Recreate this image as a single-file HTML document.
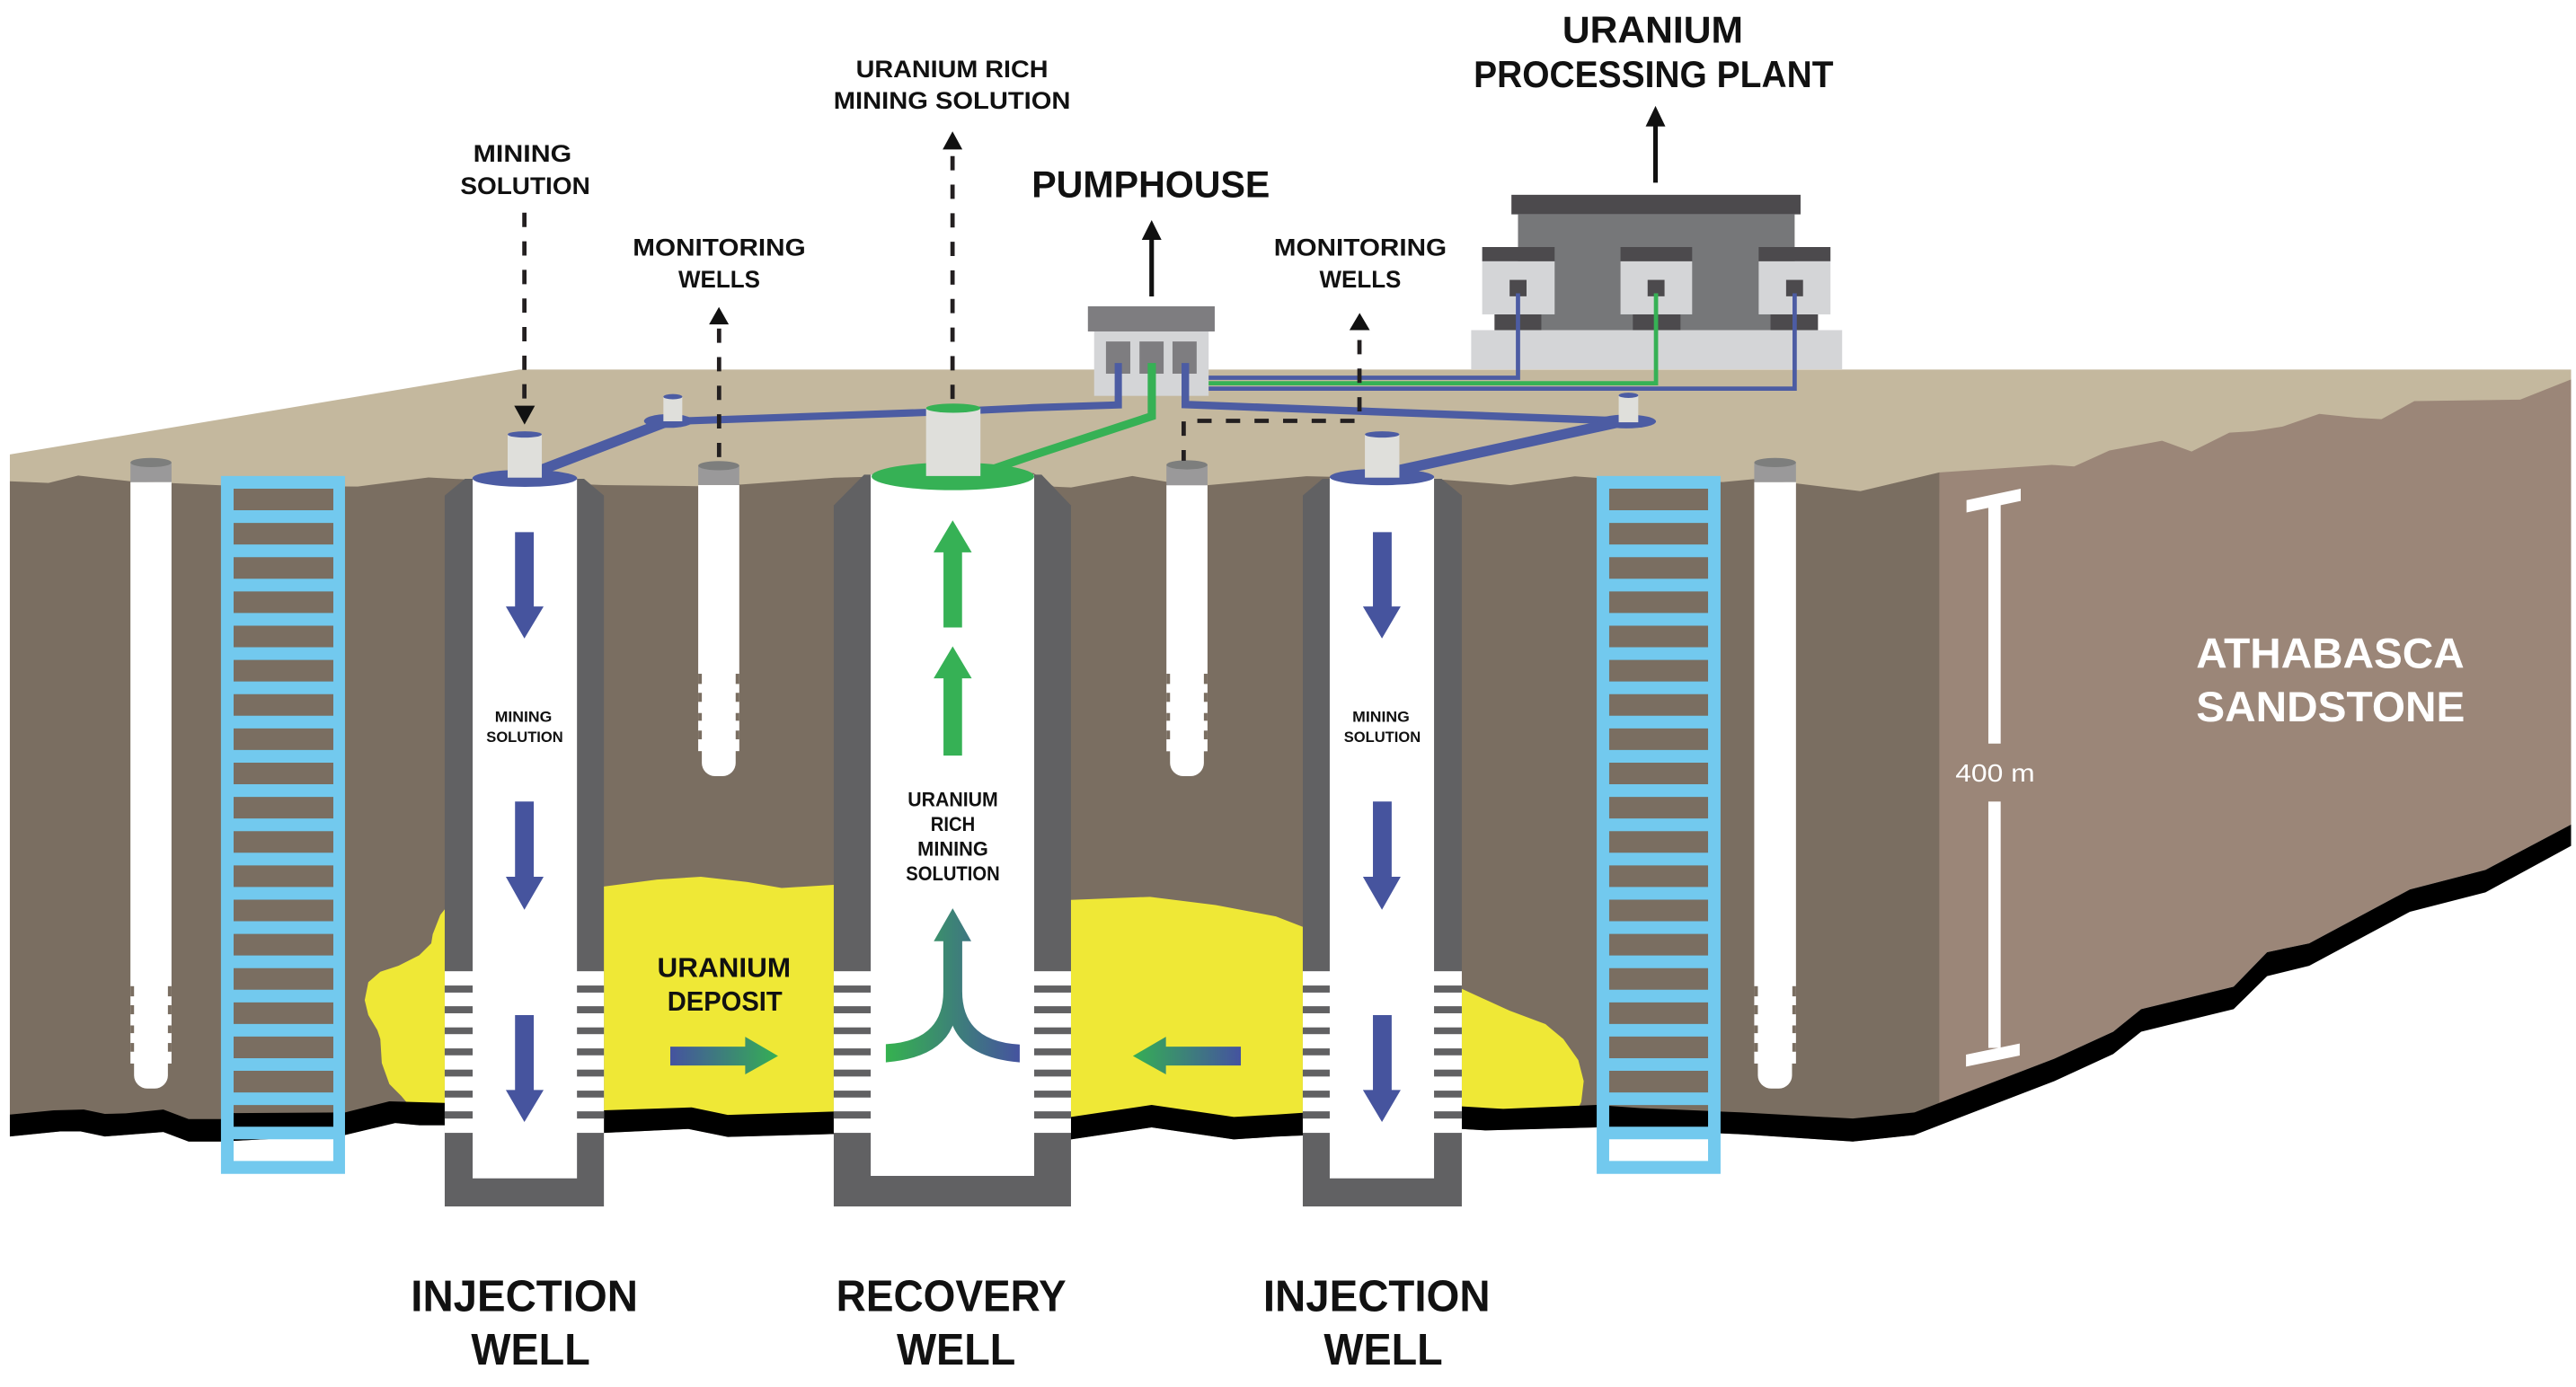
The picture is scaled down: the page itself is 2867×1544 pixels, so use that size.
<!DOCTYPE html>
<html><head><meta charset="utf-8"><style>
html,body{margin:0;padding:0;background:#fff;}
svg{display:block;}
text{font-family:"Liberation Sans",Arial,sans-serif;}
</style></head><body>
<svg xmlns="http://www.w3.org/2000/svg" width="2867" height="1544" viewBox="0 0 1568 844.43" preserveAspectRatio="none">
<defs>
<linearGradient id="gR" gradientUnits="userSpaceOnUse" x1="408" y1="0" x2="473.6" y2="0"><stop offset="0" stop-color="#45539F"/><stop offset="1" stop-color="#35AE55"/></linearGradient>
<linearGradient id="gL" gradientUnits="userSpaceOnUse" x1="689.6" y1="0" x2="755.3" y2="0"><stop offset="0" stop-color="#35AE55"/><stop offset="1" stop-color="#45539F"/></linearGradient>
<linearGradient id="gY" gradientUnits="userSpaceOnUse" x1="539.2" y1="0" x2="620.7" y2="0"><stop offset="0" stop-color="#35B24F"/><stop offset="1" stop-color="#45539F"/></linearGradient>
</defs>
<rect x="0" y="0" width="1568" height="844.43" fill="#fff"/>

<!-- tan top surface -->
<polygon fill="#C4B89E" points="6,276.7 316,225 1565,225 1565,240 1180,300 6,300"/>

<!-- front face -->
<polygon fill="#7A6E61" points="6,293 29.5,294 47.6,289.5 79.4,293 134.5,295.5 217.7,296.2 260.8,290.7 285.7,292 367.3,295.3 425,296 451.2,295 508,290.8 540,290 629,288 641.5,296.3 652,296.8 689.3,289.8 711,293.5 735,295.4 795.3,289.9 874,291.7 919.5,295.3 958.6,290 973,291 1048.7,293.5 1067.5,291.7 1094,294.4 1132.4,299 1180.5,287.6 1180.5,672 1165.3,691 1127.8,695 1060.9,690.6 1047.3,690 971.9,686.4 904.2,688.2 889.8,687.3 776.6,692 751,693.7 701,686.4 651.9,693.7 507.3,690.4 443,692.2 419,687.3 367.5,689.7 270.7,685.1 255.2,685.1 240.6,683.7 210,691 134.5,695 114.8,695 99.4,689.2 63.8,691.9 49.2,688.8 36.5,688.8 6,691.9"/>

<!-- right face -->
<polygon fill="#9B8678" points="1180.5,287.6 1249,283 1262.5,284 1284,274.3 1316,268.3 1334,274.9 1357,263.4 1371.6,262.5 1389.4,259.7 1411.7,252 1434,254.3 1449.6,255.2 1469.6,244.2 1534,243.3 1565,231 1565,502 1512.9,529.6 1466.9,541.5 1405.6,574.3 1380,579.7 1359.6,600.7 1303.3,614.4 1286.3,628.1 1250.5,644.5 1180.5,671.6"/>

<!-- uranium deposit -->
<polygon fill="#EFE836" points="251.6,676 244.3,667.3 237,660 232.4,647.2 231.5,632.6 229.7,627.2 224.2,618 222,608.9 224.2,598 231.5,591.6 242.5,588 255.2,581.6 262.5,574.3 263.4,568.8 268,557 272,552 300,545 367.5,539.7 400,535.5 426.6,533.8 455,537 475.8,540.6 507.3,538.7 580,545 651.9,547.9 700,546 740,551 776.6,557.9 793,564.3 840,585 889.8,602 918.8,615.3 940.7,623.5 951.6,632.6 960.7,645.4 964,658.2 962.5,670.9 958,680 889.8,680 793,682 651.9,686 507.3,683 367.5,683 270.7,678 251.6,678"/>

<!-- black bottom band -->
<polygon fill="#000" points="6,678.6 32.8,676 51,675.5 63.8,678.2 76.6,677.8 99.4,675.5 114.8,681.3 134.5,681.3 142,677.7 210,677.3 237,670.5 270.7,671.5 367.5,676 421,674.2 443,678.8 507.3,676.7 651.9,680 701,672.7 751,680 776.6,678.6 793,677.5 889.8,673.6 915,675.1 971.9,672.7 998,674.6 1047.3,676.7 1060.9,677.3 1127.8,681 1165.3,677.3 1250.5,644.5 1286.3,628.1 1303.3,614.4 1359.6,600.7 1380,579.7 1405.6,574.3 1466.9,541.5 1512.9,529.6 1565,502 1565,515 1512.9,543.3 1466.9,555.1 1405.6,588 1380,594.3 1359.6,614.4 1303.3,628.1 1286.3,641.7 1250.5,658.2 1165.3,691 1127.8,695 1060.9,690.6 1047.3,690 971.9,686.4 904.2,688.2 889.8,687.3 776.6,692 751,693.7 701,686.4 651.9,693.7 507.3,690.4 443,692.2 419,687.3 367.5,689.7 270.7,685.1 255.2,685.1 240.6,683.7 210,691 134.5,695 114.8,695 99.4,689.2 63.8,691.9 49.2,688.8 36.5,688.8 6,691.9"/>

<!-- ladders -->
<path fill="#72C9EE" fill-rule="evenodd" d="M134.5 289.8H210V714.7H134.5Z
M142.2 297.5H202.9V310.65H142.2Z M142.2 318.35H202.9V331.5H142.2Z M142.2 339.2H202.9V352.35H142.2Z M142.2 360.05H202.9V373.2H142.2Z M142.2 380.9H202.9V394.05H142.2Z M142.2 401.75H202.9V414.9H142.2Z M142.2 422.6H202.9V435.75H142.2Z M142.2 443.45H202.9V456.6H142.2Z M142.2 464.3H202.9V477.45H142.2Z M142.2 485.15H202.9V498.3H142.2Z M142.2 506H202.9V519.15H142.2Z M142.2 526.85H202.9V540H142.2Z M142.2 547.7H202.9V560.85H142.2Z M142.2 568.55H202.9V581.7H142.2Z M142.2 589.4H202.9V602.55H142.2Z M142.2 610.25H202.9V623.4H142.2Z M142.2 631.1H202.9V644.25H142.2Z M142.2 651.95H202.9V665.1H142.2Z M142.2 672.8H202.9V685.95H142.2Z M142.2 693.65H202.9V706.8H142.2Z"/>
<path fill="#72C9EE" fill-rule="evenodd" d="M971.9 289.8H1047.3V714.7H971.9Z
M979.5 297.5H1039.7V310.65H979.5Z M979.5 318.35H1039.7V331.5H979.5Z M979.5 339.2H1039.7V352.35H979.5Z M979.5 360.05H1039.7V373.2H979.5Z M979.5 380.9H1039.7V394.05H979.5Z M979.5 401.75H1039.7V414.9H979.5Z M979.5 422.6H1039.7V435.75H979.5Z M979.5 443.45H1039.7V456.6H979.5Z M979.5 464.3H1039.7V477.45H979.5Z M979.5 485.15H1039.7V498.3H979.5Z M979.5 506H1039.7V519.15H979.5Z M979.5 526.85H1039.7V540H979.5Z M979.5 547.7H1039.7V560.85H979.5Z M979.5 568.55H1039.7V581.7H979.5Z M979.5 589.4H1039.7V602.55H979.5Z M979.5 610.25H1039.7V623.4H979.5Z M979.5 631.1H1039.7V644.25H979.5Z M979.5 651.95H1039.7V665.1H979.5Z M979.5 672.8H1039.7V685.95H979.5Z M979.5 693.65H1039.7V706.8H979.5Z"/>

<!-- monitoring wells -->
<g>
 <!-- well 1 -->
 <rect x="79.4" y="293.5" width="25" height="354" fill="#fff"/>
 <rect x="81.6" y="630.4" width="20.6" height="32.3" rx="8" fill="#fff"/>
 <g fill="#7A6E61">
  <rect x="79.4" y="600.4" width="2.2" height="6.2"/><rect x="102.2" y="600.4" width="2.2" height="6.2"/>
  <rect x="79.4" y="612" width="2.2" height="5.5"/><rect x="102.2" y="612" width="2.2" height="5.5"/>
  <rect x="79.4" y="624.3" width="2.2" height="4.7"/><rect x="102.2" y="624.3" width="2.2" height="4.7"/>
  <rect x="79.4" y="635" width="2.2" height="5.3"/><rect x="102.2" y="635" width="2.2" height="5.3"/>
 </g>
 <rect x="79.4" y="281.6" width="25" height="11.9" fill="#9A999A"/>
 <ellipse cx="91.9" cy="281.6" rx="12.5" ry="2.8" fill="#7D7E7D"/>
 <!-- well 2 -->
 <rect x="425" y="295.3" width="25" height="162" fill="#fff"/>
 <rect x="427.2" y="440.2" width="20.6" height="32.3" rx="8" fill="#fff"/>
 <g fill="#7A6E61">
  <rect x="425" y="410.2" width="2.2" height="6.2"/><rect x="447.8" y="410.2" width="2.2" height="6.2"/>
  <rect x="425" y="421.8" width="2.2" height="5.5"/><rect x="447.8" y="421.8" width="2.2" height="5.5"/>
  <rect x="425" y="434.1" width="2.2" height="4.7"/><rect x="447.8" y="434.1" width="2.2" height="4.7"/>
  <rect x="425" y="444.8" width="2.2" height="5.3"/><rect x="447.8" y="444.8" width="2.2" height="5.3"/>
 </g>
 <rect x="425" y="283.5" width="25" height="11.8" fill="#9A999A"/>
 <ellipse cx="437.5" cy="283.5" rx="12.5" ry="2.8" fill="#7D7E7D"/>
 <!-- well 3 -->
 <rect x="710" y="295.4" width="25" height="162" fill="#fff"/>
 <rect x="712.2" y="440.2" width="20.6" height="32.3" rx="8" fill="#fff"/>
 <g fill="#7A6E61">
  <rect x="710" y="410.2" width="2.2" height="6.2"/><rect x="732.8" y="410.2" width="2.2" height="6.2"/>
  <rect x="710" y="421.8" width="2.2" height="5.5"/><rect x="732.8" y="421.8" width="2.2" height="5.5"/>
  <rect x="710" y="434.1" width="2.2" height="4.7"/><rect x="732.8" y="434.1" width="2.2" height="4.7"/>
  <rect x="710" y="444.8" width="2.2" height="5.3"/><rect x="732.8" y="444.8" width="2.2" height="5.3"/>
 </g>
 <rect x="710" y="283" width="25" height="12.4" fill="#9A999A"/>
 <ellipse cx="722.5" cy="283" rx="12.5" ry="2.8" fill="#7D7E7D"/>
 <!-- well 4 -->
 <rect x="1067.8" y="293.5" width="25.4" height="354" fill="#fff"/>
 <rect x="1070" y="630.4" width="20.8" height="32.3" rx="8" fill="#fff"/>
 <g fill="#7A6E61">
  <rect x="1067.8" y="600.4" width="2.2" height="6.2"/><rect x="1091" y="600.4" width="2.2" height="6.2"/>
  <rect x="1067.8" y="612" width="2.2" height="5.5"/><rect x="1091" y="612" width="2.2" height="5.5"/>
  <rect x="1067.8" y="624.3" width="2.2" height="4.7"/><rect x="1091" y="624.3" width="2.2" height="4.7"/>
  <rect x="1067.8" y="635" width="2.2" height="5.3"/><rect x="1091" y="635" width="2.2" height="5.3"/>
 </g>
 <rect x="1067.8" y="281.6" width="25.4" height="11.9" fill="#9A999A"/>
 <ellipse cx="1080.5" cy="281.6" rx="12.7" ry="2.8" fill="#7D7E7D"/>
</g>

<!-- LEFT INJECTION WELL -->
<polygon fill="#616163" points="270.7,301.7 283,291.5 355.5,291.5 367.6,301.7 367.6,734.5 270.7,734.5"/>
<rect x="287.7" y="291" width="63.5" height="426.4" fill="#fff"/>
<rect x="270.7" y="591.3" width="96.9" height="98.4" fill="#fff"/>
<g fill="#616163">
 <rect x="270.7" y="600" width="17" height="4.3"/><rect x="351.2" y="600" width="16.4" height="4.3"/>
 <rect x="270.7" y="612.6" width="17" height="4.3"/><rect x="351.2" y="612.6" width="16.4" height="4.3"/>
 <rect x="270.7" y="625.5" width="17" height="4.1"/><rect x="351.2" y="625.5" width="16.4" height="4.1"/>
 <rect x="270.7" y="638.3" width="17" height="4.2"/><rect x="351.2" y="638.3" width="16.4" height="4.2"/>
 <rect x="270.7" y="651.2" width="17" height="4.2"/><rect x="351.2" y="651.2" width="16.4" height="4.2"/>
 <rect x="270.7" y="664" width="17" height="4.2"/><rect x="351.2" y="664" width="16.4" height="4.2"/>
 <rect x="270.7" y="676.6" width="17" height="4.4"/><rect x="351.2" y="676.6" width="16.4" height="4.4"/>
</g>

<!-- RECOVERY WELL -->
<polygon fill="#616163" points="507.5,307.7 526,289 634,289 651.9,307.7 651.9,734.5 507.5,734.5"/>
<rect x="530" y="289" width="99.5" height="426.9" fill="#fff"/>
<rect x="507.5" y="591.3" width="144.4" height="98.4" fill="#fff"/>
<g fill="#616163">
 <rect x="507.5" y="600" width="22.5" height="4.3"/><rect x="629.5" y="600" width="22.4" height="4.3"/>
 <rect x="507.5" y="612.6" width="22.5" height="4.3"/><rect x="629.5" y="612.6" width="22.4" height="4.3"/>
 <rect x="507.5" y="625.5" width="22.5" height="4.1"/><rect x="629.5" y="625.5" width="22.4" height="4.1"/>
 <rect x="507.5" y="638.3" width="22.5" height="4.2"/><rect x="629.5" y="638.3" width="22.4" height="4.2"/>
 <rect x="507.5" y="651.2" width="22.5" height="4.2"/><rect x="629.5" y="651.2" width="22.4" height="4.2"/>
 <rect x="507.5" y="664" width="22.5" height="4.2"/><rect x="629.5" y="664" width="22.4" height="4.2"/>
 <rect x="507.5" y="676.6" width="22.5" height="4.4"/><rect x="629.5" y="676.6" width="22.4" height="4.4"/>
</g>

<!-- RIGHT INJECTION WELL -->
<polygon fill="#616163" points="793,301.7 805,291.5 877.5,291.5 889.8,301.7 889.8,734.5 793,734.5"/>
<rect x="809.4" y="291" width="63.5" height="426.4" fill="#fff"/>
<rect x="793" y="591.3" width="96.8" height="98.4" fill="#fff"/>
<g fill="#616163">
 <rect x="793" y="600" width="16.4" height="4.3"/><rect x="872.9" y="600" width="16.9" height="4.3"/>
 <rect x="793" y="612.6" width="16.4" height="4.3"/><rect x="872.9" y="612.6" width="16.9" height="4.3"/>
 <rect x="793" y="625.5" width="16.4" height="4.1"/><rect x="872.9" y="625.5" width="16.9" height="4.1"/>
 <rect x="793" y="638.3" width="16.4" height="4.2"/><rect x="872.9" y="638.3" width="16.9" height="4.2"/>
 <rect x="793" y="651.2" width="16.4" height="4.2"/><rect x="872.9" y="651.2" width="16.9" height="4.2"/>
 <rect x="793" y="664" width="16.4" height="4.2"/><rect x="872.9" y="664" width="16.9" height="4.2"/>
 <rect x="793" y="676.6" width="16.4" height="4.4"/><rect x="872.9" y="676.6" width="16.9" height="4.4"/>
</g>

<!-- blue arrows in injection wells -->
<g fill="#46549E">
 <polygon points="313.5,324 324.9,324 324.9,369.2 330.9,369.2 319.2,388.7 307.9,369.2 313.5,369.2"/>
 <polygon points="313.5,488 324.9,488 324.9,533.8 330.9,533.8 319.2,553.9 307.9,533.8 313.5,533.8"/>
 <polygon points="313.5,618 324.9,618 324.9,663.6 330.9,663.6 319.2,683.1 307.9,663.6 313.5,663.6"/>
 <polygon points="835.7,324 847.1,324 847.1,369.2 852.6,369.2 841.2,388.7 829.6,369.2 835.7,369.2"/>
 <polygon points="835.7,488 847.1,488 847.1,533.8 852.6,533.8 841.2,553.9 829.6,533.8 835.7,533.8"/>
 <polygon points="835.7,618 847.1,618 847.1,663.6 852.6,663.6 841.2,683.1 829.6,663.6 835.7,663.6"/>
</g>
<!-- green arrows in recovery well -->
<g fill="#36B155">
 <polygon points="579.9,316.8 591.5,336.3 585.6,336.3 585.6,382 574.3,382 574.3,336.3 568.3,336.3"/>
 <polygon points="579.9,393.5 591.5,413 585.6,413 585.6,460 574.3,460 574.3,413 568.3,413"/>
</g>
<!-- Y arrow -->
<path fill="url(#gY)" d="M574.2 573 L574.2 603.5 Q574.2 634 539.2 635.7 L539.2 646.8 Q572 644 579.9 624.4 Q588 644 620.7 646.8 L620.7 635.9 Q585.7 634 585.7 603.5 L585.7 573 L591.2 573 L579.9 553 L568.4 573 Z"/>
<!-- deposit arrows -->
<polygon fill="url(#gR)" points="408,637.2 453.6,637.2 453.6,631.2 473.6,642.9 453.6,654.1 453.6,648.7 408,648.7"/>
<polygon fill="url(#gL)" points="755.3,637.2 709.7,637.2 709.7,631.2 689.6,642.9 709.7,654.1 709.7,648.7 755.3,648.7"/>

<!-- text in wells -->
<g font-weight="bold" text-anchor="middle" fill="#111">
 <text x="318.6" y="439.4" font-size="8.9" textLength="34.8" lengthAdjust="spacingAndGlyphs">MINING</text>
 <text x="319.4" y="451.8" font-size="8.9" textLength="46.7" lengthAdjust="spacingAndGlyphs">SOLUTION</text>
 <text x="840.6" y="439.4" font-size="8.9" textLength="34.8" lengthAdjust="spacingAndGlyphs">MINING</text>
 <text x="841.4" y="451.8" font-size="8.9" textLength="46.7" lengthAdjust="spacingAndGlyphs">SOLUTION</text>
 <text x="580" y="490.9" font-size="12" textLength="55" lengthAdjust="spacingAndGlyphs">URANIUM</text>
 <text x="580" y="505.9" font-size="12" textLength="27" lengthAdjust="spacingAndGlyphs">RICH</text>
 <text x="580" y="520.9" font-size="12" textLength="43" lengthAdjust="spacingAndGlyphs">MINING</text>
 <text x="580" y="535.9" font-size="12" textLength="57.1" lengthAdjust="spacingAndGlyphs">SOLUTION</text>
 <text x="440.7" y="594.9" font-size="16.6" textLength="81.2" lengthAdjust="spacingAndGlyphs">URANIUM</text>
 <text x="441.2" y="615.3" font-size="16.6" textLength="70" lengthAdjust="spacingAndGlyphs">DEPOSIT</text>
</g>

<!-- pumphouse -->
<rect x="662.2" y="186.5" width="77.2" height="15.3" fill="#7E7D80"/>
<rect x="666" y="201.8" width="69.7" height="39.2" fill="#D4D5D7"/>
<rect x="673.2" y="207.9" width="14.8" height="19.6" fill="#7E7D80"/>
<rect x="693.6" y="207.9" width="14.7" height="19.6" fill="#7E7D80"/>
<rect x="713.7" y="207.9" width="14.7" height="19.6" fill="#7E7D80"/>

<!-- processing plant -->
<rect x="920" y="118.6" width="176" height="11.9" fill="#4C4A4D"/>
<rect x="924" y="130.5" width="168.4" height="70.5" fill="#767779"/>
<g fill="#4C4A4D">
 <rect x="902.2" y="150.4" width="44.1" height="8.7"/>
 <rect x="986.4" y="150.4" width="43.6" height="8.7"/>
 <rect x="1070.5" y="150.4" width="43.7" height="8.7"/>
 <rect x="909.7" y="191.4" width="28.5" height="9.6"/>
 <rect x="993.9" y="191.4" width="29" height="9.6"/>
 <rect x="1077.7" y="191.4" width="28.9" height="9.6"/>
</g>
<g fill="#D4D5D7">
 <rect x="902.2" y="159.1" width="44.1" height="32.3"/>
 <rect x="986.4" y="159.1" width="43.6" height="32.3"/>
 <rect x="1070.5" y="159.1" width="43.7" height="32.3"/>
 <rect x="895.5" y="201" width="225.8" height="23.8"/>
</g>
<g fill="#4C4A4D">
 <rect x="918.9" y="170.4" width="10.3" height="10"/>
 <rect x="1002.9" y="170.4" width="10.3" height="10"/>
 <rect x="1087.2" y="170.4" width="10.3" height="10"/>
</g>

<!-- pipes -->
<g fill="none" stroke-linejoin="miter" stroke-linecap="butt">
 <polyline stroke="#4C5CA3" stroke-width="2.6" points="735.7,230 924,230 924,178.6"/>
 <polyline stroke="#36B155" stroke-width="2.6" points="735.7,233.3 1008,233.3 1008,178.6"/>
 <polyline stroke="#4C5CA3" stroke-width="2.6" points="735.7,236.6 1092.4,236.6 1092.4,178.6"/>
 <line stroke="#4C5CA3" stroke-width="6.3" x1="327" y1="287" x2="407" y2="256.3"/>
 <polyline stroke="#4C5CA3" stroke-width="4.4" points="410,256.5 580,250.5 628.9,248.2 680.7,246.5 680.7,221"/>
 <polyline stroke="#36B155" stroke-width="5" points="701.1,221 701.1,253.4 628.9,277.1 600,287"/>
 <polyline stroke="#4C5CA3" stroke-width="4.6" points="721.5,221 721.5,246.3 988,256.3"/>
 <line stroke="#4C5CA3" stroke-width="6.3" x1="988" y1="256.5" x2="848" y2="287"/>
</g>
<ellipse cx="407" cy="256.3" rx="15" ry="4.2" fill="#4C5CA3"/>
<ellipse cx="990" cy="256.6" rx="18" ry="4.2" fill="#4C5CA3"/>
<rect x="403.8" y="241.5" width="11.5" height="15" fill="#DFDFDB"/>
<ellipse cx="409.55" cy="241.5" rx="5.75" ry="1.6" fill="#4C5CA3"/>
<rect x="985.3" y="240.7" width="11.9" height="16.4" fill="#DFDFDB"/>
<ellipse cx="991.25" cy="240.7" rx="5.95" ry="1.6" fill="#4C5CA3"/>

<!-- well heads -->
<ellipse cx="319.45" cy="291.2" rx="31.9" ry="5.2" fill="#4C5CA3"/>
<rect x="309" y="264.5" width="20.8" height="26.3" fill="#DFDFDB"/>
<ellipse cx="319.4" cy="264.5" rx="10.4" ry="1.9" fill="#4C5CA3"/>
<ellipse cx="580" cy="290" rx="49.5" ry="8.4" fill="#36B155"/>
<rect x="563.7" y="248.5" width="33.1" height="41.3" fill="#DFDFDB"/>
<ellipse cx="580.25" cy="248.5" rx="16.55" ry="2.8" fill="#36B155"/>
<ellipse cx="841.2" cy="290.4" rx="31.8" ry="5" fill="#4C5CA3"/>
<rect x="830.8" y="264.5" width="21" height="26.3" fill="#DFDFDB"/>
<ellipse cx="841.3" cy="264.5" rx="10.5" ry="1.9" fill="#4C5CA3"/>

<!-- dashed connectors -->
<g fill="none" stroke="#231F20" stroke-width="2.6" stroke-dasharray="8.7 8.7">
 <line x1="319.2" y1="129.5" x2="319.2" y2="247"/>
 <line x1="437.7" y1="200" x2="437.7" y2="280.5"/>
 <line x1="579.8" y1="95" x2="579.8" y2="246"/>
 <polyline points="827.5,207 827.5,256.2 720.5,256.2 720.5,280.5"/>
</g>
<g fill="#111">
 <polygon points="313,247 325.6,247 319.3,258.5"/>
 <polygon points="437.6,186.9 431.6,197.5 443.6,197.5"/>
 <polygon points="579.8,80 573.8,91 585.8,91"/>
 <polygon points="827.6,190.5 821.4,201 833.8,201"/>
 <polygon points="701,134 695,146 707,146"/>
 <polygon points="1007.7,64.5 1001.7,77 1013.7,77"/>
</g>
<line x1="701" y1="145" x2="701" y2="180.5" stroke="#111" stroke-width="2.8"/>
<line x1="1007.7" y1="76" x2="1007.7" y2="111.2" stroke="#111" stroke-width="2.8"/>

<!-- 400 m scale -->
<g fill="#fff">
 <polygon points="1197,312 1197,304.5 1230,297.5 1230,305"/>
 <rect x="1210.3" y="302" width="7.5" height="150.7"/>
 <rect x="1210.3" y="488" width="7.5" height="150"/>
 <polygon points="1196.7,649.4 1196.7,642.1 1229.4,635.3 1229.4,642.6"/>
</g>
<text x="1214.4" y="475.8" font-size="15" fill="#fff" text-anchor="middle" textLength="48.4" lengthAdjust="spacingAndGlyphs">400 m</text>

<!-- labels -->
<g font-weight="bold" text-anchor="middle" fill="#111">
 <text x="318" y="98.5" font-size="14.8" textLength="59.9" lengthAdjust="spacingAndGlyphs">MINING</text>
 <text x="319.7" y="118.2" font-size="14.8" textLength="79" lengthAdjust="spacingAndGlyphs">SOLUTION</text>
 <text x="437.8" y="155.5" font-size="14.8" textLength="105.2" lengthAdjust="spacingAndGlyphs">MONITORING</text>
 <text x="437.8" y="175" font-size="14.8" textLength="49.7" lengthAdjust="spacingAndGlyphs">WELLS</text>
 <text x="579.5" y="46.9" font-size="14.5" textLength="117" lengthAdjust="spacingAndGlyphs">URANIUM RICH</text>
 <text x="579.5" y="66.2" font-size="14.5" textLength="144.2" lengthAdjust="spacingAndGlyphs">MINING SOLUTION</text>
 <text x="828" y="155.5" font-size="14.8" textLength="105.2" lengthAdjust="spacingAndGlyphs">MONITORING</text>
 <text x="828" y="175" font-size="14.8" textLength="49.7" lengthAdjust="spacingAndGlyphs">WELLS</text>
 <text x="700.5" y="120" font-size="23" textLength="145" lengthAdjust="spacingAndGlyphs">PUMPHOUSE</text>
 <text x="1006" y="26" font-size="23" textLength="110" lengthAdjust="spacingAndGlyphs">URANIUM</text>
 <text x="1006.5" y="53" font-size="23" textLength="219" lengthAdjust="spacingAndGlyphs">PROCESSING PLANT</text>
 <text x="319.2" y="798.2" font-size="26.8" textLength="138.2" lengthAdjust="spacingAndGlyphs">INJECTION</text>
 <text x="323" y="830.8" font-size="26.8" textLength="72.4" lengthAdjust="spacingAndGlyphs">WELL</text>
 <text x="579" y="798.2" font-size="26.8" textLength="140" lengthAdjust="spacingAndGlyphs">RECOVERY</text>
 <text x="582" y="830.8" font-size="26.8" textLength="72.4" lengthAdjust="spacingAndGlyphs">WELL</text>
 <text x="838" y="798.2" font-size="26.8" textLength="138.2" lengthAdjust="spacingAndGlyphs">INJECTION</text>
 <text x="842" y="830.8" font-size="26.8" textLength="72.4" lengthAdjust="spacingAndGlyphs">WELL</text>
</g>
<g font-weight="bold" text-anchor="middle" fill="#fff">
 <text x="1418.4" y="406.5" font-size="25.8" textLength="163.2" lengthAdjust="spacingAndGlyphs">ATHABASCA</text>
 <text x="1418.6" y="439.3" font-size="25.8" textLength="163.6" lengthAdjust="spacingAndGlyphs">SANDSTONE</text>
</g>
</svg>
</body></html>
